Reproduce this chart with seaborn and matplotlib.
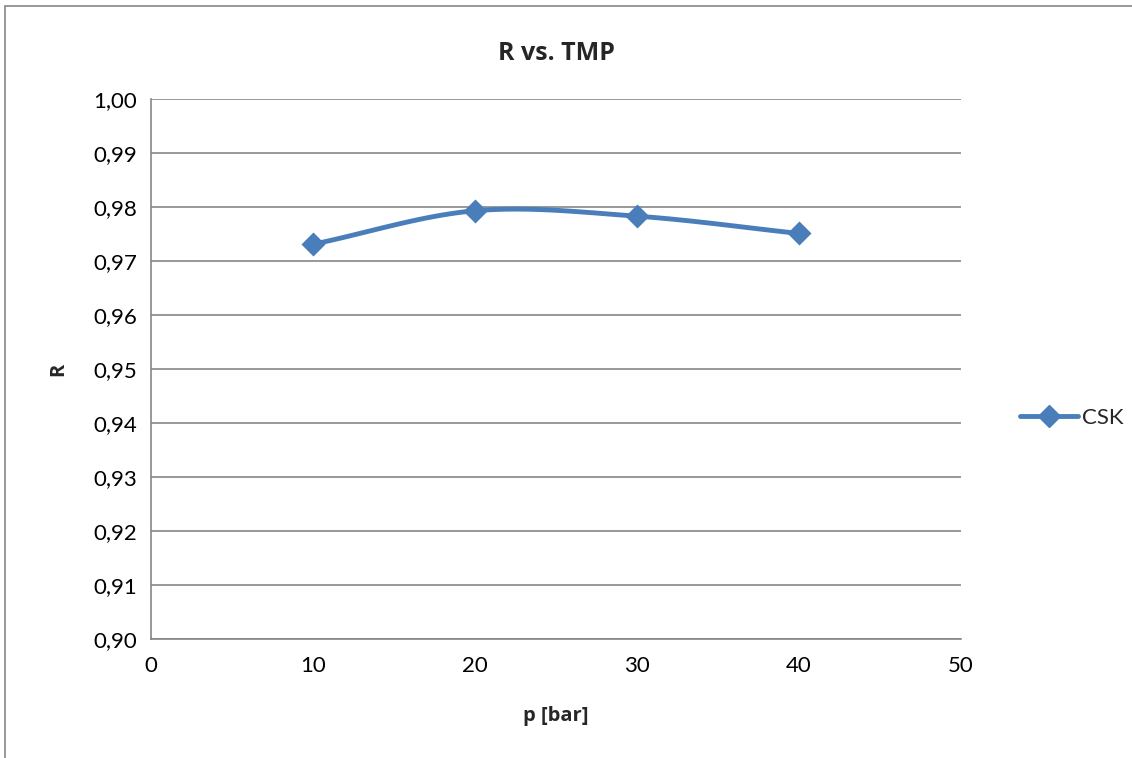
import numpy as np
import matplotlib
matplotlib.use('Agg')
import matplotlib.pyplot as plt
import seaborn as sns
from matplotlib.lines import Line2D
from matplotlib.patches import Rectangle

# ── data ─────────────────────────────────────────────
pressure = [10, 20, 30, 40]
rejection = [0.9731, 0.9793, 0.9783, 0.9751]
series_name = 'CSK'
y_ticks = [0.90, 0.91, 0.92, 0.93, 0.94, 0.95, 0.96, 0.97, 0.98, 0.99, 1.00]
x_ticks = [0, 10, 20, 30, 40, 50]

BLUE = '#4a7ebb'
GRID = '#868686'
BOLD_FONT = ['Open Sans', 'DejaVu Sans']


def smooth_curve(x, y, n=40):
    # Catmull-Rom style smoothing, like Excel's "smoothed line"
    x = np.asarray(x, float)
    y = np.asarray(y, float)
    px = np.concatenate([[2 * x[0] - x[1]], x, [2 * x[-1] - x[-2]]])
    py = np.concatenate([[2 * y[0] - y[1]], y, [2 * y[-1] - y[-2]]])
    xs, ys = [], []
    for i in range(1, len(px) - 2):
        t = np.linspace(0, 1, n)
        for arr, out in ((px, xs), (py, ys)):
            p0, p1, p2, p3 = arr[i - 1], arr[i], arr[i + 1], arr[i + 2]
            m1 = (p2 - p0) / 2
            m2 = (p3 - p1) / 2
            h00 = 2 * t**3 - 3 * t**2 + 1
            h10 = t**3 - 2 * t**2 + t
            h01 = -2 * t**3 + 3 * t**2
            h11 = t**3 - t**2
            out.extend(h00 * p1 + h10 * m1 + h01 * p2 + h11 * m2)
    return np.array(xs), np.array(ys)


sns.set_style('white')
plt.rcParams['font.family'] = ['Lato', 'DejaVu Sans']

fig = plt.figure(figsize=(11.32, 7.58), dpi=100)
ax = fig.add_axes([151 / 1132, 1 - 639 / 758, (961 - 151) / 1132, (639 - 99) / 758])

# outer chart frame (only left and top edges visible in the crop)
fig.patches.append(Rectangle((5 / 1132, -0.1), 1.2, 1 - 6 / 758 + 0.1,
                             transform=fig.transFigure, fill=False,
                             edgecolor='#868686', linewidth=1.2))

sx, sy = smooth_curve(pressure, rejection)
ax.plot(sx, sy, color=BLUE, linewidth=3.5, solid_capstyle='round', zorder=3)
sns.scatterplot(x=pressure, y=rejection, marker='D', s=150, color=BLUE,
                edgecolor=BLUE, linewidth=0, ax=ax, zorder=4)

ax.set_xlim(0, 50)
ax.set_ylim(0.90, 1.00)
ax.set_xticks(x_ticks)
ax.set_yticks(y_ticks)
ax.set_yticklabels([f'{v:.2f}'.replace('.', ',') for v in y_ticks])
ax.set_xticklabels([str(v) for v in x_ticks])
ax.tick_params(axis='both', length=0, labelsize=16, colors='black')
ax.tick_params(axis='y', pad=10)
ax.tick_params(axis='x', pad=12)
ax.yaxis.grid(True, color=GRID, linewidth=1.2)
ax.xaxis.grid(False)
sns.despine(ax=ax, top=True, right=True)
for side in ('left', 'bottom'):
    ax.spines[side].set_color(GRID)
    ax.spines[side].set_linewidth(1.2)

ax.set_title('R vs. TMP', fontsize=18, fontweight='bold', family=BOLD_FONT, pad=28)
ax.set_xlabel('p [bar]', fontsize=14.5, fontweight='bold', family=BOLD_FONT, labelpad=22)
ax.set_ylabel('R', fontsize=14.5, fontweight='bold', family=BOLD_FONT, labelpad=18)

handle = Line2D([0], [0], color=BLUE, linewidth=3.5, marker='D', markersize=11)
fig.legend([handle], [series_name], loc='center left',
           bbox_to_anchor=(1000 / 1132, 1 - 418 / 758), frameon=False,
           fontsize=16, handlelength=2.6, handletextpad=0.2)

plt.savefig('out.png', dpi=100)
plt.close()
